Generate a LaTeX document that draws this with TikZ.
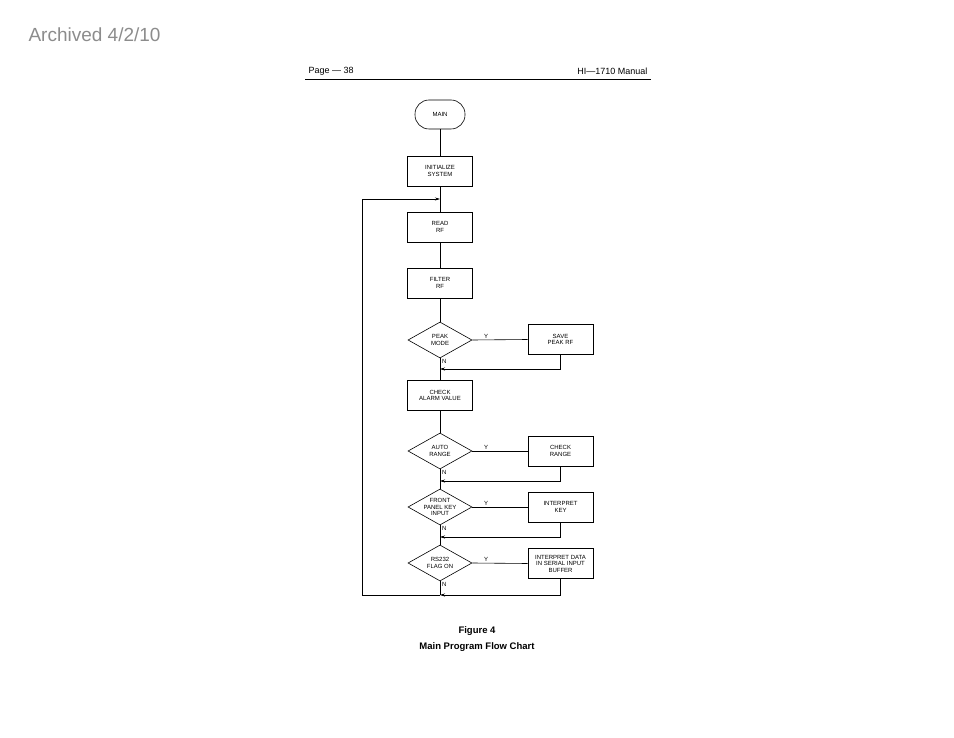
\documentclass[tikz,border=0pt]{standalone}
\usepackage{fontspec}
\setmainfont{Liberation Sans}
\usetikzlibrary{shapes.geometric,arrows.meta}
\begin{document}
\begin{tikzpicture}[x=1pt,y=-1pt,
  box/.style={draw,line width=0.6pt,minimum width=65pt,minimum height=30pt,inner sep=1pt,align=center,font=\fontsize{6}{6.5}\selectfont},
  dec/.style={draw,line width=0.6pt,diamond,aspect=1.8,minimum width=64pt,minimum height=36pt,inner sep=0pt,align=center,font=\fontsize{6}{6.5}\selectfont},
  term/.style={draw,line width=0.6pt,rounded corners=14pt,minimum width=50pt,minimum height=29pt,font=\fontsize{6}{6.5}\selectfont},
  lbl/.style={font=\fontsize{6}{6}\selectfont,inner sep=1pt},
  flow/.style={line width=0.6pt},
  back/.style={line width=0.6pt,-{Stealth[length=5pt,width=3pt]}}]
\useasboundingbox (0,0) rectangle (954,738);
% header
\node[anchor=west,text=black!45,font=\fontsize{19}{19}\selectfont] (arch) at (25,35) {Archived 4/2/10};
\node[anchor=west,font=\fontsize{9}{9}\selectfont] (pg) at (305,71) {Page --- 38};
\node[anchor=east,font=\fontsize{9}{9}\selectfont] (man) at (651,71) {HI---1710 Manual};
\draw[line width=0.7pt] (305,79) -- (651,79);

% main column
\node[term] (main) at (440,114.5) {MAIN};
\node[box] (init) at (440,171) {INITIALIZE\\SYSTEM};
\node[box] (read) at (440,227) {READ\\RF};
\node[box] (filt) at (440,283) {FILTER\\RF};
\node[dec] (peak) at (440,340) {PEAK\\MODE};
\node[box] (chk) at (440,395.5) {CHECK\\ALARM VALUE};
\node[dec] (auto) at (440,451) {AUTO\\RANGE};
\node[dec] (front) at (440,507) {FRONT\\PANEL KEY\\INPUT};
\node[dec] (rs) at (440,563) {RS232\\FLAG ON};

% side boxes
\node[box] (save) at (560.5,339.5) {SAVE\\PEAK RF};
\node[box] (rng) at (560.5,451) {CHECK\\RANGE};
\node[box] (key) at (560.5,507) {INTERPRET\\KEY};
\node[box] (ser) at (560.5,563.5) {INTERPRET DATA\\IN SERIAL INPUT\\BUFFER};

\coordinate (j0) at (440,199);
\coordinate (j1) at (440,369);
\coordinate (j2) at (440,481);
\coordinate (j3) at (440,537);
\coordinate (j4) at (440,595);

\draw[flow] (main) -- (init);
\draw[flow] (init) -- (read);
\draw[flow] (read) -- (filt);
\draw[flow] (filt) -- (peak);
\draw[flow] (peak) -- (chk);
\draw[flow] (chk) -- (auto);
\draw[flow] (auto) -- (front);
\draw[flow] (front) -- (rs);
\draw[flow] (rs) -- (j4);

% yes branches
\foreach \d/\b/\j in {peak/save/j1,auto/rng/j2,front/key/j3,rs/ser/j4}{
  \draw[flow] (\d.east) -- node[lbl,above,pos=0.25]{Y} (\b.west);
  \draw[back] (\b.south) |- (\j);
  \node[lbl,anchor=north west] at ([xshift=1pt]\d.south) {N};
}
% loop back
\draw[back] (j4) -- (362,595) -- (362,199) -- (j0);

% caption
\node[font=\bfseries\fontsize{9.5}{9.5}\selectfont] (fig) at (477,631) {Figure 4};
\node[font=\bfseries\fontsize{9.5}{9.5}\selectfont] (cap) at (477,647) {Main Program Flow Chart};
\end{tikzpicture}
\end{document}
